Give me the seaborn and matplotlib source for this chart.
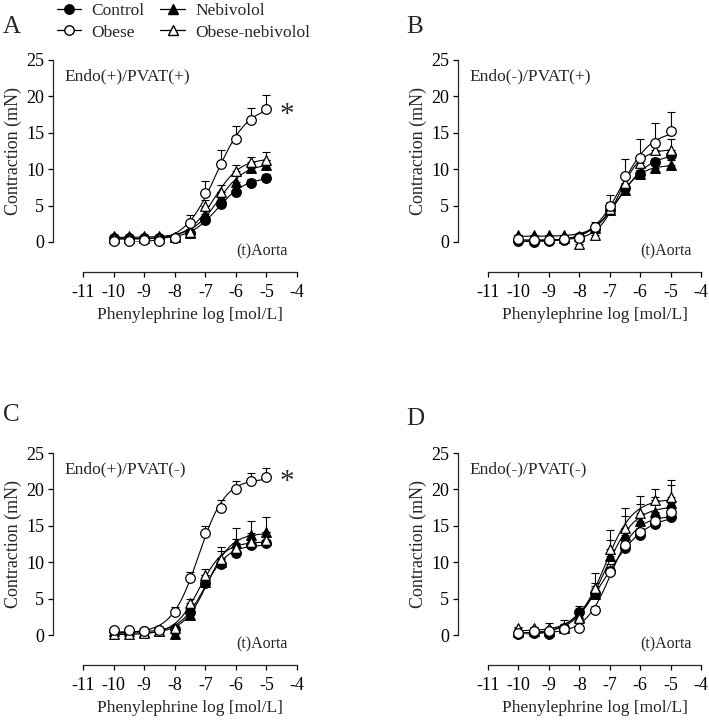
import numpy as np
import pandas as pd
import matplotlib
matplotlib.use("Agg")
import matplotlib.pyplot as plt
import seaborn as sns
from matplotlib.lines import Line2D

# ---------------- data ----------------
log_conc = [-10, -9.5, -9, -8.5, -8, -7.5, -7, -6.5, -6, -5.5, -5]
groups = ["Control", "Obese", "Nebivolol", "Obese-nebivolol"]
panel_letters = ["A", "B", "C", "D"]
panel_titles = ["Endo(+)/PVAT(+)", "Endo(-)/PVAT(+)", "Endo(+)/PVAT(-)", "Endo(-)/PVAT(-)"]
vessel_label = "(t)Aorta"
x_ticks = [-11, -10, -9, -8, -7, -6, -5, -4]
y_ticks = [0, 5, 10, 15, 20, 25]

# Panel A  Endo(+)/PVAT(+)
A_control = [0.5, 0.5, 0.5, 0.5, 0.6, 1.2, 3.0, 5.2, 6.9, 8.1, 8.8]
A_obese = [0.2, 0.1, 0.3, 0.1, 0.6, 2.6, 6.7, 10.7, 14.1, 16.8, 18.3]
A_nebivolol = [0.8, 0.8, 0.8, 0.8, 0.7, 1.2, 3.9, 6.2, 8.3, 10.1, 10.6]
A_obese_neb = [0.6, 0.6, 0.6, 0.6, 0.7, 1.4, 4.9, 6.9, 9.7, 11.0, 11.3]
A_control_err = [0.1, 0.1, 0.1, 0.1, 0.1, 0.3, 0.5, 0.6, 0.6, 0.5, 0.5]
A_obese_err = [0.1, 0.1, 0.1, 0.1, 0.3, 1.1, 1.7, 1.9, 1.9, 1.6, 1.9]
A_nebivolol_err = [0.1, 0.1, 0.1, 0.1, 0.1, 0.3, 0.6, 0.7, 0.7, 0.6, 0.6]
A_obese_neb_err = [0.1, 0.1, 0.1, 0.1, 0.2, 0.4, 0.9, 0.9, 0.9, 0.7, 1.0]

# Panel B  Endo(-)/PVAT(+)
B_control = [0.2, 0.05, 0.2, 0.3, 0.7, 1.8, 4.4, 7.4, 9.3, 11.0, 11.9]
B_obese = [0.4, 0.3, 0.3, 0.4, 0.5, 2.0, 4.9, 9.0, 11.5, 13.6, 15.2]
B_nebivolol = [0.9, 0.9, 0.9, 0.9, 0.8, 1.9, 4.4, 7.1, 9.3, 10.1, 10.6]
B_obese_neb = [0.7, 0.5, 0.5, 0.5, -0.3, 1.0, 4.6, 8.1, 10.8, 12.6, 12.7]
B_control_err = [0.1, 0.1, 0.1, 0.1, 0.2, 0.5, 0.6, 0.6, 0.6, 0.6, 0.7]
B_obese_err = [0.1, 0.1, 0.1, 0.1, 0.2, 0.7, 1.6, 2.4, 2.6, 2.7, 2.6]
B_nebivolol_err = [0.1, 0.1, 0.1, 0.1, 0.2, 0.5, 0.5, 0.6, 0.6, 0.6, 0.6]
B_obese_neb_err = [0.2, 0.2, 0.2, 0.2, 0.3, 0.6, 0.9, 1.1, 1.0, 1.2, 1.4]

# Panel C  Endo(+)/PVAT(-)
C_control = [0.6, 0.6, 0.5, 0.7, 0.8, 3.2, 7.1, 9.8, 11.2, 12.3, 12.6]
C_obese = [0.7, 0.7, 0.5, 0.7, 3.1, 7.8, 14.0, 17.5, 20.0, 21.2, 21.7]
C_nebivolol = [0.5, 0.5, 0.4, 0.6, 0.2, 2.7, 7.3, 10.0, 12.6, 13.7, 14.2]
C_obese_neb = [0.2, 0.2, 0.3, 0.5, 0.9, 4.4, 8.2, 10.5, 11.9, 12.8, 13.0]
C_control_err = [0.1, 0.1, 0.1, 0.1, 0.2, 0.6, 0.8, 0.8, 0.8, 0.8, 0.8]
C_obese_err = [0.2, 0.2, 0.1, 0.2, 0.8, 0.9, 1.0, 1.1, 1.2, 1.1, 1.2]
C_nebivolol_err = [0.1, 0.1, 0.1, 0.1, 0.3, 0.6, 0.9, 1.6, 2.1, 2.0, 2.0]
C_obese_neb_err = [0.1, 0.1, 0.1, 0.1, 0.4, 0.6, 0.8, 1.6, 1.3, 1.2, 1.2]

# Panel D  Endo(-)/PVAT(-)
D_control = [0.1, 0.3, 0.2, 1.0, 3.2, 5.8, 8.8, 11.9, 13.7, 15.2, 16.2]
D_obese = [0.3, 0.5, 0.5, 0.8, 0.9, 3.5, 8.6, 12.4, 14.2, 15.7, 16.9]
D_nebivolol = [0.4, 0.6, 0.6, 1.0, 2.5, 5.7, 10.9, 13.8, 15.6, 16.9, 18.2]
D_obese_neb = [0.9, 0.9, 0.9, 1.1, 2.3, 6.5, 11.8, 14.7, 16.7, 18.5, 19.0]
D_control_err = [0.1, 0.1, 0.3, 0.5, 0.8, 0.9, 1.0, 1.0, 1.0, 1.0, 1.0]
D_obese_err = [0.1, 0.1, 0.1, 0.2, 0.3, 0.5, 0.8, 1.0, 1.0, 1.0, 1.0]
D_nebivolol_err = [0.1, 0.1, 0.2, 0.4, 0.6, 1.4, 2.2, 2.5, 2.4, 2.1, 2.4]
D_obese_neb_err = [0.2, 0.2, 0.7, 1.0, 0.8, 2.0, 2.6, 2.7, 2.4, 1.6, 2.3]

panels = {
    "A": (A_control, A_obese, A_nebivolol, A_obese_neb,
          A_control_err, A_obese_err, A_nebivolol_err, A_obese_neb_err),
    "B": (B_control, B_obese, B_nebivolol, B_obese_neb,
          B_control_err, B_obese_err, B_nebivolol_err, B_obese_neb_err),
    "C": (C_control, C_obese, C_nebivolol, C_obese_neb,
          C_control_err, C_obese_err, C_nebivolol_err, C_obese_neb_err),
    "D": (D_control, D_obese, D_nebivolol, D_obese_neb,
          D_control_err, D_obese_err, D_nebivolol_err, D_obese_neb_err),
}
significant = {"A": True, "B": False, "C": True, "D": False}

# ---------------- styling ----------------
sns.set_style("ticks")
plt.rcParams["font.family"] = ["Liberation Serif", "DejaVu Serif"]
plt.rcParams["axes.linewidth"] = 0.9
plt.rcParams["xtick.major.width"] = 0.9
plt.rcParams["ytick.major.width"] = 0.9
plt.rcParams["xtick.major.size"] = 3.8
plt.rcParams["ytick.major.size"] = 3.8

marker_style = {
    "Control": dict(marker="o", facecolor="black"),
    "Obese": dict(marker="o", facecolor="white"),
    "Nebivolol": dict(marker="^", facecolor="black"),
    "Obese-nebivolol": dict(marker="^", facecolor="white"),
}
draw_order = ["Control", "Nebivolol", "Obese-nebivolol", "Obese"]


def fit4pl(x, y):
    """Least-squares 4-parameter logistic fit (grid over EC50/Hill, linear bottom/top)."""
    x = np.asarray(x, float)
    y = np.asarray(y, float)
    ecs = np.arange(-9.5, -4.5, 0.01)
    hs = np.arange(0.4, 3.0, 0.02)
    EC, H = np.meshgrid(ecs, hs, indexing="ij")
    s = 1.0 / (1.0 + 10 ** ((EC[..., None] - x) * H[..., None]))
    u = 1.0 - s
    suu = (u * u).sum(-1)
    sss = (s * s).sum(-1)
    sus = (u * s).sum(-1)
    suy = (u * y).sum(-1)
    ssy = (s * y).sum(-1)
    det = suu * sss - sus ** 2
    b = (sss * suy - sus * ssy) / det
    t = (suu * ssy - sus * suy) / det
    pred = b[..., None] * u + t[..., None] * s
    sse = ((pred - y) ** 2).sum(-1)
    i = np.unravel_index(np.nanargmin(sse), sse.shape)
    return b[i], t[i], EC[i], H[i]


W, H = 709, 720
fig = plt.figure(figsize=(W / 100, H / 100), dpi=100)

ax_rect = {
    "A": (83 / W, 1 - 242 / H, 214 / W, 182 / H),
    "B": (488 / W, 1 - 242 / H, 213 / W, 182 / H),
    "C": (83 / W, 1 - 635 / H, 214 / W, 182 / H),
    "D": (488 / W, 1 - 635 / H, 213 / W, 182 / H),
}
letter_pos = {"A": (3 / W, 1 - 33 / H), "B": (406 / W, 1 - 33 / H),
              "C": (3 / W, 1 - 421 / H), "D": (406 / W, 1 - 425 / H)}
star_y = {"A": 17.4, "C": 21.0}

xfine = np.linspace(-10, -5, 300)

for key, title in zip(panel_letters, panel_titles):
    ax = fig.add_axes(ax_rect[key])
    vals = panels[key]
    means = dict(zip(groups, vals[:4]))
    errs = dict(zip(groups, vals[4:]))

    for g in draw_order:
        b, t, ec, h = fit4pl(log_conc, means[g])
        yfit = b + (t - b) / (1 + 10 ** ((ec - xfine) * h))
        sns.lineplot(x=xfine, y=yfit, ax=ax, color="black", lw=0.8,
                     zorder=1, legend=False)

    for g in draw_order:
        y = np.asarray(means[g])
        e = np.asarray(errs[g])
        ax.errorbar(log_conc, y, yerr=[np.zeros_like(e), e], fmt="none",
                    ecolor="black", elinewidth=0.8, capsize=2.8,
                    capthick=0.8, zorder=2, clip_on=False)
        df = pd.DataFrame({"x": log_conc, "y": y})
        st = marker_style[g]
        sns.scatterplot(data=df, x="x", y="y", ax=ax, marker=st["marker"],
                        s=48, color=st["facecolor"], edgecolor="black",
                        linewidth=0.9, zorder=3, clip_on=False, legend=False)

    ax.set_xlim(-11, -4)
    ax.set_ylim(0, 25)
    ax.set_xticks(x_ticks)
    ax.set_xticklabels([str(v) for v in x_ticks])
    ax.set_yticks(y_ticks)
    sns.despine(ax=ax, offset=21.6)
    ax.spines["left"].set_bounds(0, 25)
    ax.spines["bottom"].set_bounds(-11, -4)
    ax.tick_params(labelsize=13, colors="black")
    ax.tick_params(axis="x", pad=5)
    ax.tick_params(axis="y", pad=2.5)
    ax.set_xlabel("Phenylephrine log [mol/L]", fontsize=12.5, labelpad=4)
    ax.set_ylabel("Contraction (mN)", fontsize=13, labelpad=3)
    ax.set_facecolor("none")

    ax.text(-11.6, 22.8, title, fontsize=12.5, ha="left", va="center")
    ax.text(-4.3, -1.35, vessel_label, fontsize=11.5, ha="right", va="center")
    if significant[key]:
        ax.text(-4.33, star_y[key], "*", fontsize=21, ha="center", va="center")

    fig.text(letter_pos[key][0], letter_pos[key][1], key, fontsize=18,
             ha="left", va="baseline")

handles = []
for g in groups:
    st = marker_style[g]
    handles.append(Line2D([0], [0], color="black", lw=0.9, marker=st["marker"],
                          markerfacecolor=st["facecolor"],
                          markeredgecolor="black", markersize=6.8))
fig.legend(handles, groups, ncol=2, loc="upper left",
           bbox_to_anchor=(57 / W, 1 - 3 / H), frameon=False, fontsize=12.5,
           handlelength=1.4, handletextpad=0.6, columnspacing=0.9,
           labelspacing=0.3, borderpad=0, borderaxespad=0)

fig.savefig("out.png", dpi=100)
